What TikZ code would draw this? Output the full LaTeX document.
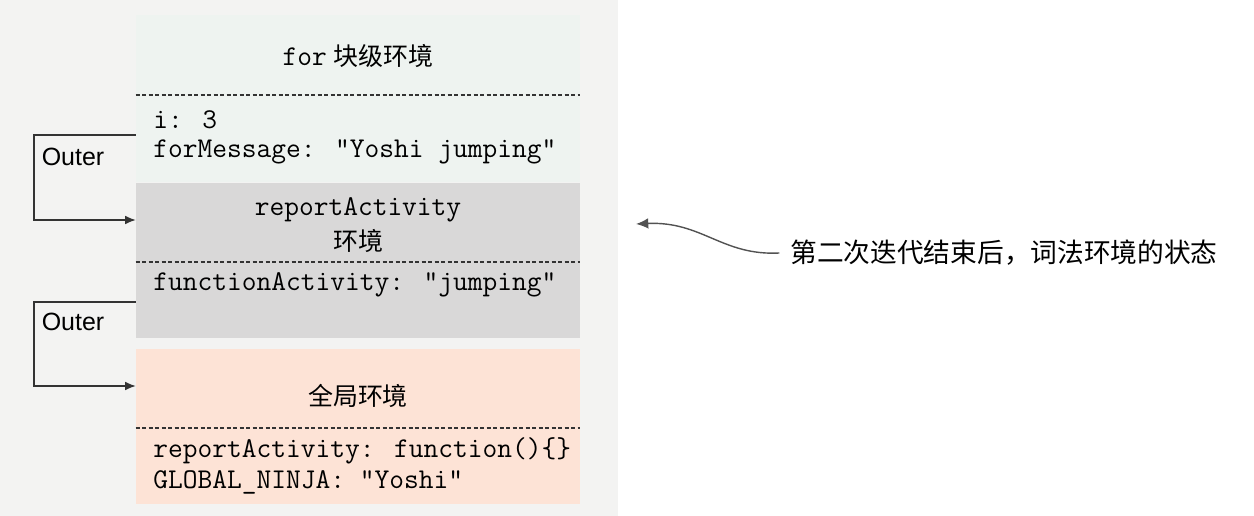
\documentclass[tikz,border=0pt]{standalone}
\usepackage{fontspec}
\setmainfont{Liberation Sans}
\newfontfamily\cjk{Noto Sans CJK SC}
\definecolor{panelgray}{RGB}{243, 243, 242}
\definecolor{forgreen}{RGB}{238, 243, 240}
\definecolor{fungray}{RGB}{217, 216, 216}
\definecolor{globpeach}{RGB}{253, 227, 214}
\definecolor{inkgray}{RGB}{51, 51, 51}
\usetikzlibrary{arrows.meta, positioning, calc}

\begin{document}
\begin{tikzpicture}[
  x=0.02cm, y=-0.02cm,
  envbox/.style={draw=none, minimum width=8.88cm, inner sep=0pt},
  envtitle/.style={font=\fontsize{14.2}{17}\selectfont, align=center, inner sep=0pt},
  envvar/.style={font=\ttfamily\fontsize{16.3}{19}\selectfont, anchor=west, inner sep=0pt},
  sepline/.style={inkgray, line width=0.7pt, dash pattern=on 0.08cm off 0.05cm},
  outerlink/.style={inkgray, line width=0.8pt, -{Latex[length=6pt, width=5pt]}},
  outerlabel/.style={font=\fontsize{14.2}{17}\selectfont, inner sep=0pt}
]
  \useasboundingbox (0,0) rectangle (1254,516);
  \fill[panelgray] (0,0) rectangle (618,516);

  % Environments
  \node[envbox, fill=forgreen, minimum height=3.34cm] (forenv) at (358,98.5) {};
  \node[envbox, fill=fungray, minimum height=3.1cm] (funenv) at (358,260.5) {};
  \node[envbox, fill=globpeach, minimum height=3.1cm] (globenv) at (358,426.5) {};

  % for block
  \node[envtitle] (fortitle) at (358,56) {{\ttfamily\fontsize{16.3}{19}\selectfont for} {\cjk 块级环境}};
  \draw[sepline] (forenv.west |- 0,95) -- (forenv.east |- 0,95);
  \node[envvar] (fori) at (153,120) {i: 3};
  \node[envvar] (formsg) at (153,152) {forMessage: "Yoshi jumping"};

  % reportActivity
  \node[envtitle] (funtitle) at (358,225) {{\ttfamily\fontsize{16.3}{19}\selectfont reportActivity}\\[3pt]{\cjk 环境}};
  \draw[sepline] (funenv.west |- 0,262) -- (funenv.east |- 0,262);
  \node[envvar] (funact) at (153,285) {functionActivity: "jumping"};

  % global
  \node[envtitle] (globtitle) at (358,396) {\cjk 全局环境};
  \draw[sepline] (globenv.west |- 0,428) -- (globenv.east |- 0,428);
  \node[envvar] (globfn) at (153,451) {reportActivity: function()\{\}};
  \node[envvar] (globninja) at (153,482) {GLOBAL\_NINJA: "Yoshi"};

  % Outer references
  \coordinate (out1) at (forenv.west |- 0,135);
  \coordinate (in1) at (funenv.west |- 0,220);
  \draw[outerlink] (out1) -- (34,135) |- (in1);
  \node[outerlabel] (outer1) at (73,157) {Outer};

  \coordinate (out2) at (funenv.west |- 0,302);
  \coordinate (in2) at (globenv.west |- 0,386);
  \draw[outerlink] (out2) -- (34,302) |- (in2);
  \node[outerlabel] (outer2) at (73,322) {Outer};

  % Caption
  \node[anchor=west, inner sep=0pt, font=\cjk\fontsize{15.2}{18}\selectfont] (caption) at (790,253) {第二次迭代结束后，词法环境的状态};
  \coordinate (tip) at (636,224);
  \draw[inkgray!85, line width=0.8pt, -{Latex[length=7pt, width=6pt]}] ([xshift=-6pt]caption.west) .. controls (722,256) and (702,221) .. (tip);
\end{tikzpicture}
\end{document}
